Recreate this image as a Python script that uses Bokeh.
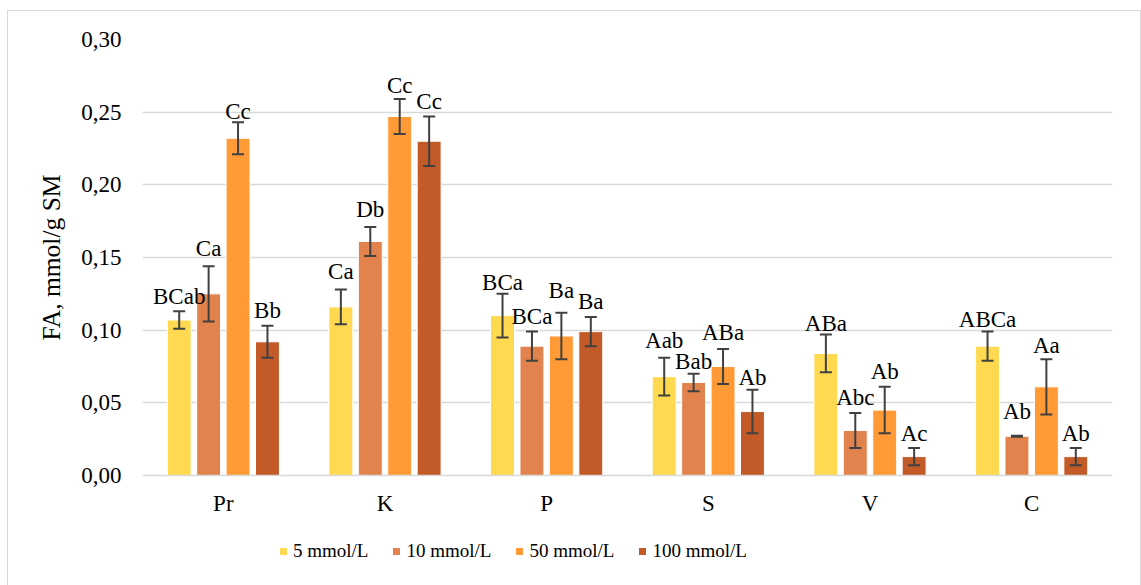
from bokeh.plotting import figure
from bokeh.layouts import column
from bokeh.models import (ColumnDataSource, Whisker, TeeHead, Legend, LegendItem,
                          FixedTicker, CustomJSTickFormatter, Range1d)
from bokeh.core.properties import value
from bokeh.embed import file_html
from bokeh.resources import INLINE

# Samples on the x axis and the four concentrations
categories = ["Pr", "K", "P", "S", "V", "C"]
series_names = ["5 mmol/L", "10 mmol/L", "50 mmol/L", "100 mmol/L"]

# Mean FA content per sample (mmol/g SM)
fa_5 = [0.107, 0.116, 0.110, 0.068, 0.084, 0.089]
fa_10 = [0.125, 0.161, 0.089, 0.064, 0.031, 0.027]
fa_50 = [0.232, 0.247, 0.096, 0.075, 0.045, 0.061]
fa_100 = [0.092, 0.230, 0.099, 0.044, 0.013, 0.013]

# Standard deviations
sd_5 = [0.006, 0.012, 0.015, 0.013, 0.013, 0.010]
sd_10 = [0.019, 0.010, 0.010, 0.006, 0.012, 0.0003]
sd_50 = [0.011, 0.012, 0.016, 0.012, 0.016, 0.019]
sd_100 = [0.011, 0.017, 0.010, 0.015, 0.006, 0.006]

# Significance letters
sig_5 = ["BCab", "Ca", "BCa", "Aab", "ABa", "ABCa"]
sig_10 = ["Ca", "Db", "BCa", "Bab", "Abc", "Ab"]
sig_50 = ["Cc", "Cc", "Ba", "ABa", "Ab", "Aa"]
sig_100 = ["Bb", "Cc", "Ba", "Ab", "Ac", "Ab"]

y_ticks = [0.0, 0.05, 0.10, 0.15, 0.20, 0.25, 0.30]

colors = ["#FFD94F", "#E2834D", "#FF9A36", "#C25B28"]
offsets = [-0.273, -0.091, 0.091, 0.273]
bar_width = 0.148
# pixel gap between each letter and the top of its whisker
label_gap = [
    [9, 12, 5, 11, 5, 6],
    [12, 11, 9, 6, 10, 18],
    [5, 8, 16, 11, 9, 8],
    [9, 9, 10, 6, 8, 8],
]
LIFT = 6

FONT = "Liberation Serif"
TXT = "23px"
GRID = "#D9D9D9"
ERR = "#404040"

p = figure(width=1132, height=519, output_backend="svg", toolbar_location=None,
           x_range=Range1d(0, len(categories)), y_range=Range1d(0, 0.30),
           min_border_left=134, min_border_right=28, min_border_top=28,
           min_border_bottom=55, outline_line_color=None)

means = [fa_5, fa_10, fa_50, fa_100]
sds = [sd_5, sd_10, sd_50, sd_100]
sigs = [sig_5, sig_10, sig_50, sig_100]

sources = []
for k in range(4):
    xs = [i + 0.5 + offsets[k] for i in range(len(categories))]
    src = ColumnDataSource(dict(
        x=xs, top=means[k],
        upper=[m + s for m, s in zip(means[k], sds[k])],
        lower=[m - s for m, s in zip(means[k], sds[k])],
        label=sigs[k],
        dy=[-(g + LIFT) for g in label_gap[k]],
    ))
    sources.append(src)
    p.vbar(x="x", top="top", width=bar_width, source=src,
           fill_color=colors[k], line_color="white", line_width=1)

# error bars above all bars, letters on top of everything
for src in sources:
    p.add_layout(Whisker(source=src, base="x", upper="upper", lower="lower",
                         level="annotation", line_color=ERR, line_width=2,
                         upper_head=TeeHead(size=12, line_color=ERR, line_width=2),
                         lower_head=TeeHead(size=12, line_color=ERR, line_width=2)))
for src in sources:
    p.text(x="x", y="upper", text="label", source=src, y_offset="dy",
           text_align="center", text_baseline="alphabetic", level="overlay",
           text_font=value(FONT), text_font_size=TXT, text_color="black")

# axes
p.xaxis.ticker = FixedTicker(ticks=[i + 0.5 for i in range(len(categories))])
p.xaxis.major_label_overrides = {i + 0.5: c for i, c in enumerate(categories)}
p.xaxis.axis_line_color = GRID
p.xaxis.axis_line_width = 1.5
p.xaxis.major_tick_line_color = None
p.xaxis.minor_tick_line_color = None
p.xaxis.major_label_standoff = 9
p.xaxis.major_label_text_font = FONT
p.xaxis.major_label_text_font_size = TXT
p.xaxis.major_label_text_color = "black"

p.yaxis.ticker = FixedTicker(ticks=y_ticks)
p.yaxis.formatter = CustomJSTickFormatter(code="return tick.toFixed(2).replace('.', ',');")
p.yaxis.axis_line_color = None
p.yaxis.major_tick_line_color = None
p.yaxis.minor_tick_line_color = None
p.yaxis.major_label_standoff = 15
p.yaxis.major_label_text_font = FONT
p.yaxis.major_label_text_font_size = TXT
p.yaxis.major_label_text_color = "black"
p.yaxis.axis_label = "FA, mmol/g SM"
p.yaxis.axis_label_text_font = FONT
p.yaxis.axis_label_text_font_size = "25.5px"
p.yaxis.axis_label_text_font_style = "normal"
p.yaxis.axis_label_text_color = "black"
p.yaxis.axis_label_standoff = 12

p.xgrid.grid_line_color = None
p.ygrid.grid_line_color = GRID
p.ygrid.grid_line_width = 1.5

# legend strip under the chart
lg = figure(width=1132, height=55, output_backend="svg", toolbar_location=None,
            x_axis_type=None, y_axis_type=None, x_range=Range1d(0, 1), y_range=Range1d(0, 1),
            min_border=0, outline_line_color=None)
lg.xgrid.grid_line_color = None
lg.ygrid.grid_line_color = None
items = []
for k in range(4):
    r = lg.vbar(x=[-1], top=[0], width=0.1, fill_color=colors[k], line_color="white",
                line_width=1)
    items.append(LegendItem(label=series_names[k], renderers=[r]))
legend = Legend(items=items, orientation="horizontal", location=(136, 23),
                glyph_width=10, glyph_height=10, label_standoff=5, spacing=23,
                padding=0, margin=0, border_line_color=None, background_fill_alpha=0,
                label_text_font=FONT, label_text_font_size="19px",
                label_text_color="black", label_height=20)
lg.add_layout(legend, "center")

page = column(p, lg, spacing=0, margin=(10, 0, 0, 7),
              styles={"border-top": "1px solid " + GRID, "border-left": "1px solid " + GRID,
                      "border-right": "1px solid " + GRID})

open("out.html", "w").write(file_html(page, INLINE))
